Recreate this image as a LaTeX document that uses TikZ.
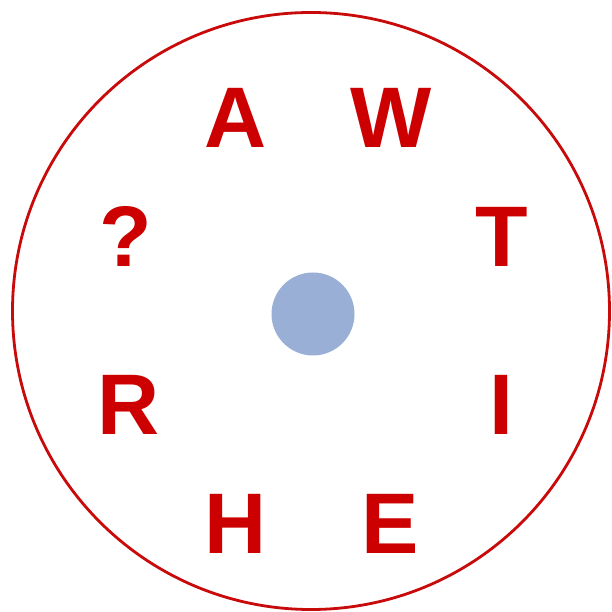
\documentclass[tikz,border=0pt]{standalone}
\usepackage{fontspec}
\setmainfont{Liberation Sans}
\definecolor{letterred}{HTML}{CC0000}
\definecolor{ringred}{HTML}{C80A0A}
\definecolor{dotblue}{HTML}{9AAFD5}
\begin{document}
\begin{tikzpicture}[x=1pt,y=1pt,
  letter/.style={inner sep=0pt,anchor=base,text=letterred,font=\fontsize{86}{86}\selectfont\bfseries}]
\useasboundingbox (0,0) rectangle (611,612);
\draw[ringred,line width=2.8pt] (311,301) circle[radius=298.5];
\fill[dotblue] (313,298) circle[radius=41.5];
\node[letter] (a) at (235.5,464) {A};
\node[letter] (w) at (391.5,464) {W};
\node[letter] (q) at (125.5,345) {?};
\node[letter] (t) at (501.5,345) {T};
\node[letter] (r) at (128.5,177) {R};
\node[letter] (i) at (501,177) {I};
\node[letter] (h) at (235.5,58) {H};
\node[letter] (e) at (390.5,58) {E};
\end{tikzpicture}
\end{document}
